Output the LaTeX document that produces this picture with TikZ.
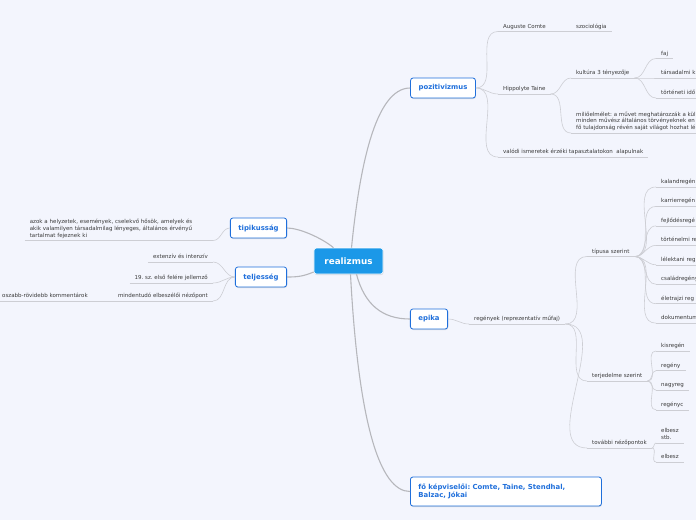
\documentclass[tikz,border=0pt]{standalone}
\usepackage{fontspec}
\setmainfont{DejaVu Sans}
\usepackage{tikz}
\usetikzlibrary{positioning,shadows}
\definecolor{pagebg}{HTML}{F3F5FD}
\definecolor{rootfill}{HTML}{1B98E8}
\definecolor{ideablue}{HTML}{1F6FDB}
\definecolor{trunkgray}{HTML}{B6B7BC}
\definecolor{twiggray}{HTML}{CDCED4}
\definecolor{leafink}{HTML}{3A3A3A}
\tikzset{
  trunk/.style={draw=trunkgray, line width=1.1pt},
  twig/.style={draw=twiggray, line width=0.6pt},
  lift/.style={drop shadow={shadow xshift=0.5pt, shadow yshift=-1pt, opacity=0.22}},
  rootbox/.style={lift, fill=rootfill, draw=white, line width=0.6pt, rounded corners=2.5pt,
    text=white, font=\fontsize{8.8}{10}\selectfont\bfseries, inner xsep=10.5pt, minimum height=26pt},
  ideabox/.style={lift, fill=white, draw=ideablue, line width=0.8pt, rounded corners=2.5pt,
    text=ideablue, font=\fontsize{6.9}{8}\selectfont\bfseries, inner xsep=8pt, minimum height=20pt},
  leaf/.style={text=leafink, font=\fontsize{5.5}{6.7}\selectfont, inner xsep=5pt, inner ysep=2pt, align=left},
  oneline/.style={text height=4pt, text depth=1.3pt},
  rleaf/.style={leaf, oneline, anchor=south west},
  lleaf/.style={leaf, oneline, anchor=south east}
}

\begin{document}
\frenchspacing
\begin{tikzpicture}[x=1pt, y=-1pt]
  \fill[pagebg] (0,0) rectangle (696,520);
  \useasboundingbox (0,0) rectangle (696,520);

  \node[rootbox] (root) at (348.5,261) {realizmus};
  \node[ideabox] (poz) at (443,88) {pozitivizmus};
  \node[ideabox] (tip) at (258.5,228) {tipikusság};
  \node[ideabox] (tel) at (261,277) {teljesség};
  \node[ideabox] (epi) at (429,319) {epika};
  \node[ideabox, anchor=west, align=left, text width=175pt, minimum height=29pt] (kep) at (410,491.5)
    {fő képviselői: Comte, Taine, Stendhal,\\Balzac, Jókai};

  % main branches
  \draw[trunk] ([xshift=3pt]root.north) .. controls +(8,-80) and +(-35,0) .. (poz.west);
  \draw[trunk] ([xshift=-15pt]root.north) .. controls +(-12,-10) and +(12,0) .. (tip.east);
  \draw[trunk] ([yshift=-11pt]root.west) .. controls +(-10,4) and +(12,0) .. (tel.east);
  \draw[trunk] ([xshift=8pt]root.south) .. controls +(8,30) and +(-28,0) .. (epi.west);
  \draw[trunk] ([xshift=2pt]root.south) .. controls +(8,150) and +(-30,0) .. (kep.west);

  % pozitivizmus
  \node[rleaf] (comte) at (498,31.5) {Auguste Comte};
  \node[rleaf] (szoc) at (571,31.5) {szociológia};
  \node[rleaf] (taine) at (498,94) {Hippolyte Taine};
  \node[rleaf] (kult) at (571,78) {kultúra 3 tényezője};
  \node[rleaf] (faj) at (656,58.5) {faj};
  \node[rleaf] (tarsk) at (656,78) {társadalmi k};
  \node[rleaf] (tortido) at (656,98) {történeti idő};
  \node[rleaf] (milio) at (571,133) {miliőelmélet: a művet meghatározzák a kül\\minden művész általános törvényeknek en\\fő tulajdonság révén saját világot hozhat lé};
  \node[rleaf] (valodi) at (498,157) {valódi ismeretek érzéki tapasztalatokon\ \ alapulnak};
  \foreach \kid in {comte,taine,valodi}
    \draw[twig] (poz.east) to[out=0,in=180] (\kid.south west);
  \draw[twig] (comte.south east) -- (szoc.south west);
  \foreach \kid in {kult,milio}
    \draw[twig] (taine.south east) to[out=0,in=180] (\kid.south west);
  \foreach \kid in {faj,tarsk,tortido}
    \draw[twig] (kult.south east) to[out=0,in=180] (\kid.south west);

  % epika
  \node[rleaf] (reg) at (469,324) {regények (reprezentatív műfaj)};
  \node[rleaf] (tipusa) at (587,256.5) {típusa szerint};
  \node[rleaf] (terj) at (587,381) {terjedelme szerint};
  \node[rleaf] (tovabbi) at (587,448) {további nézőpontok};
  \draw[twig] (epi.east) to[out=0,in=180] (reg.south west);
  \foreach \kid in {tipusa,terj,tovabbi}
    \draw[twig] (reg.south east) to[out=0,in=180] (\kid.south west);
  \foreach \nm/\txt [count=\i from 0] in {kaland/kalandregén, karrier/karrierregén,
      fejl/fejlődésregé, tort/történelmi re, lelek/lélektani reg, csal/családregény,
      elet/életrajzi reg, dok/dokumentum}{
    \node[rleaf] (\nm) at (656,{187+19.45*\i}) {\txt};
    \draw[twig] (tipusa.south east) to[out=0,in=180] (\nm.south west);
    \draw[twig] (\nm.south west) -- (\nm.south east);
  }
  \foreach \nm/\txt [count=\i from 0] in {kisreg/kisregén, regeny/regény, nagyreg/nagyreg, regc/regényc}{
    \node[rleaf] (\nm) at (656,{351+19.6*\i}) {\txt};
    \draw[twig] (terj.south east) to[out=0,in=180] (\nm.south west);
    \draw[twig] (\nm.south west) -- (\nm.south east);
  }
  \node[rleaf] (elb) at (656,443) {elbesz\\stb.};
  \node[rleaf] (elbb) at (656,462) {elbesz};
  \foreach \kid in {elb,elbb}
    \draw[twig] (tovabbi.south east) to[out=0,in=180] (\kid.south west);

  % left side
  \node[leaf, anchor=south east, text width=178pt] (tipl) at (213,240.5)
    {azok a helyzetek, események, cselekvő hősök, amelyek és\\akik valamilyen társadalmilag lényeges, általános érvényű\\tartalmat fejeznek ki};
  \draw[twig] (tipl.south east) to[out=0,in=180] (tip.west);
  \node[lleaf] (ext) at (213,262) {extenzív és intenzív};
  \node[lleaf] (sz19) at (213,283) {19. sz. első felére jellemző};
  \node[lleaf] (mind) at (213,301) {mindentudó elbeszélői nézőpont};
  \node[lleaf, left=20pt of mind.south west, anchor=south east] (komm) {oszabb-rövidebb kommentárok};
  \foreach \kid in {ext,sz19,mind}
    \draw[twig] (\kid.south east) to[out=0,in=180] (tel.west);
  \draw[twig] (komm.south east) -- (mind.south west);

  % underlines
  \foreach \nm in {comte,szoc,taine,kult,faj,tarsk,tortido,milio,valodi,reg,tipusa,terj,tovabbi,
      elb,elbb,tipl,ext,sz19,mind,komm}
    \draw[twig] (\nm.south west) -- (\nm.south east);
\end{tikzpicture}
\end{document}
